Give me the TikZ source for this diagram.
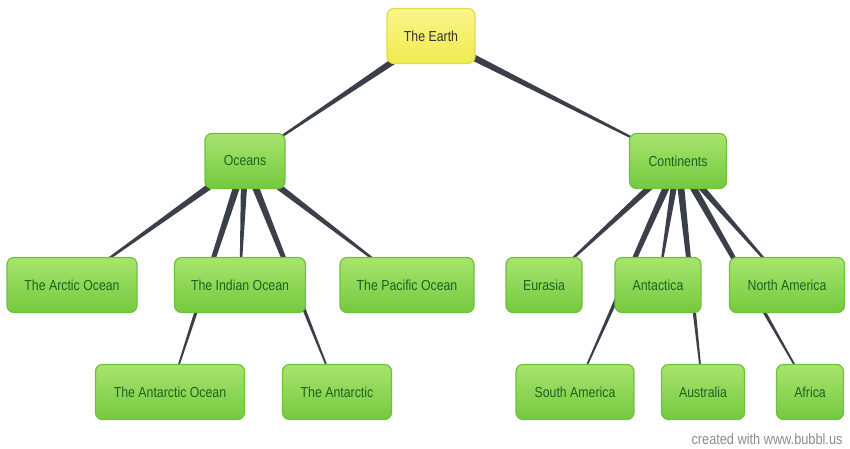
\documentclass[tikz,border=0pt]{standalone}
\usepackage{fontspec}
\setmainfont{Liberation Sans}[FakeStretch=0.85]
\usetikzlibrary{calc,backgrounds}
\definecolor{boxtop}{HTML}{A8E46E}
\definecolor{boxbot}{HTML}{74C93E}
\definecolor{boxedge}{HTML}{6CC23A}
\definecolor{boxtext}{HTML}{1A6420}
\definecolor{roottop}{HTML}{FAF68A}
\definecolor{rootbot}{HTML}{EFEA4E}
\definecolor{rootedge}{HTML}{E2DC48}
\definecolor{roottext}{HTML}{333333}
\definecolor{wirecol}{HTML}{3A3F4A}
\tikzset{
  bubble/.style={draw=boxedge, line width=1.2pt, rounded corners=7pt,
    top color=boxtop, bottom color=boxbot, text=boxtext,
    font=\fontsize{14.5}{14.5}\selectfont, minimum height=55pt, inner sep=0pt},
  root/.style={bubble, draw=rootedge, top color=roottop, bottom color=rootbot, text=roottext},
  wire/.style={fill=wirecol}
}
\newcommand{\wedgeline}[2]{%
  \fill[wire] ($(#1)!3.8pt!90:(#2)$) -- ($(#2)!0.5pt!-90:(#1)$)
    -- ($(#2)!0.5pt!90:(#1)$) -- ($(#1)!3.8pt!-90:(#2)$) -- cycle;}
\begin{document}
\begin{tikzpicture}[x=1pt,y=-1pt]
	\useasboundingbox (0,0) rectangle (850,448);
	\node[root, minimum width=88pt] (earth) at (431,36) {The Earth};
	\node[bubble, minimum width=80pt] (oceans) at (245,161) {Oceans};
	\node[bubble, minimum width=97pt] (continents) at (678,161) {Continents};
	\node[bubble, minimum width=130pt] (arctic) at (72,285) {The Arctic Ocean};
	\node[bubble, minimum width=131pt] (indian) at (240,285) {The Indian Ocean};
	\node[bubble, minimum width=134pt] (pacific) at (407,285) {The Pacific Ocean};
	\node[bubble, minimum width=76pt] (eurasia) at (544,285) {Eurasia};
	\node[bubble, minimum width=86pt] (antactica) at (658,285) {Antactica};
	\node[bubble, minimum width=115pt] (namerica) at (787,285) {North America};
	\node[bubble, minimum width=149pt] (antocean) at (170,392) {The Antarctic Ocean};
	\node[bubble, minimum width=109pt] (antarctic) at (337,392) {The Antarctic};
	\node[bubble, minimum width=118pt] (samerica) at (575,392) {South America};
	\node[bubble, minimum width=83pt] (australia) at (703,392) {Australia};
	\node[bubble, minimum width=67pt] (africa) at (810,392) {Africa};
	\node[anchor=base west, text=black!45, font=\fontsize{15}{15}\selectfont] (credit) at (688,444) {created with www.bubbl.us};
	\begin{scope}[on background layer]
	\fill[white] (0,0) rectangle (850,448);
	\foreach \p/\c in {earth/oceans, earth/continents, oceans/arctic, oceans/indian,
	  oceans/pacific, oceans/antocean, oceans/antarctic, continents/eurasia,
	  continents/antactica, continents/namerica, continents/samerica,
	  continents/australia, continents/africa}
	  {\wedgeline{\p}{\c}}
	\end{scope}
\end{tikzpicture}
\end{document}
